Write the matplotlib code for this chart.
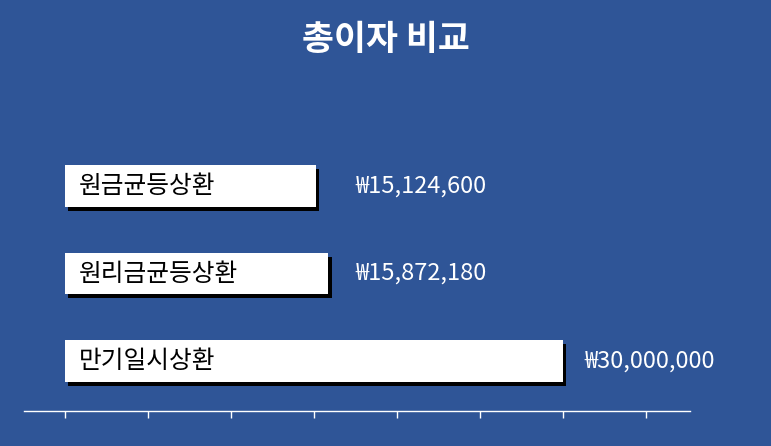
import matplotlib
matplotlib.use("Agg")
import matplotlib.pyplot as plt
import matplotlib.patheffects as pe

plt.rcParams["font.family"] = ["Noto Sans CJK KR", "DejaVu Sans"]

# data
methods = ["원금균등상환", "원리금균등상환", "만기일시상환"]
total_interest = [15124600, 15872180, 30000000]
tick_values = [0, 5e6, 10e6, 15e6, 20e6, 25e6, 30e6, 35e6]

BG = "#2F5597"

fig = plt.figure(figsize=(7.71, 4.46), dpi=100, facecolor=BG)
ax = fig.add_axes([0.0311, 0.0785, 0.8638, 0.5886], facecolor=BG)

ypos = list(range(len(methods)))
shadow = [pe.SimplePatchShadow(offset=(2.2, -2.9), shadow_rgbFace="black", alpha=1.0),
          pe.Normal()]
bars = ax.barh(ypos, total_interest, height=0.47, color="white", zorder=3)
for b in bars:
    b.set_path_effects(shadow)

for y, name, v in zip(ypos, methods, total_interest):
    # category name sits inside the bar
    ax.annotate(name, xy=(0, y), xytext=(10, 0), textcoords="offset points",
                ha="left", va="center", fontsize=17.8, color="black", zorder=4)
    # value label: fixed column for the short bars, just past the long one
    ax.text(max(v, 16.2e6) + 1.3e6, y, f"₩{v:,}", ha="left", va="center",
            fontsize=17, color="white", zorder=4)

ax.set_xlim(-2.47e6, 37.65e6)
ax.set_ylim(2.571, -0.429)
ax.set_xticks(tick_values)
ax.set_xticklabels([])
ax.set_yticks([])
ax.tick_params(axis="x", direction="out", length=5, color="white", width=1)
for side in ["top", "right", "left"]:
    ax.spines[side].set_visible(False)
ax.spines["bottom"].set_color("white")
ax.spines["bottom"].set_linewidth(1)

fig.text(0.5, 0.912, "총이자 비교", ha="center", va="center", fontsize=25,
         fontweight="bold", color="white")

fig.savefig("out.png", dpi=100, facecolor=BG)
